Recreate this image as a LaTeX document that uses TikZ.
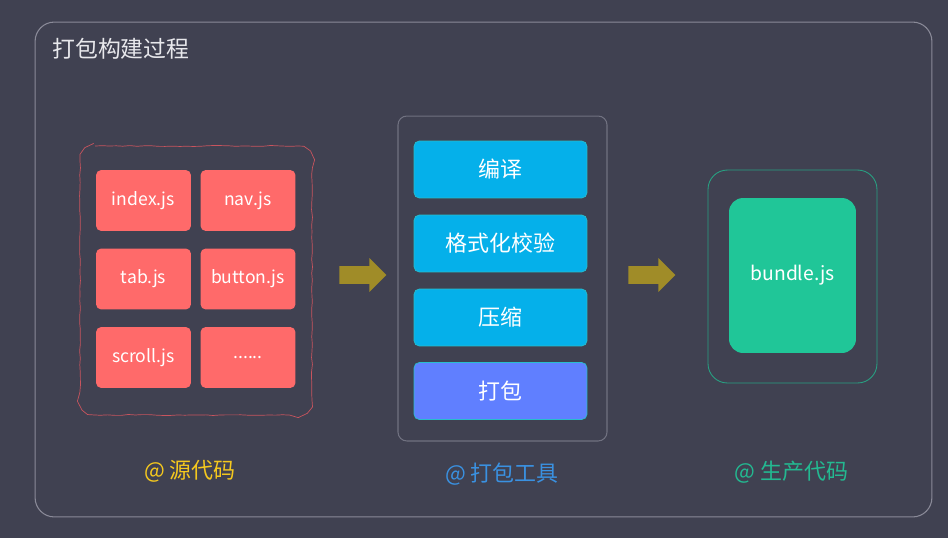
\documentclass[tikz,border=0pt]{standalone}
\usepackage{fontspec}
\setmainfont{Noto Sans CJK SC}
\usetikzlibrary{shapes.arrows,decorations.pathmorphing}
\definecolor{bgdark}{RGB}{64,65,81}
\definecolor{framegray}{RGB}{138,138,152}
\definecolor{toolgray}{RGB}{112,113,128}
\definecolor{srcred}{RGB}{255,106,106}
\definecolor{wavyred}{RGB}{200,84,94}
\definecolor{stepblue}{RGB}{5,176,234}
\definecolor{stepedge}{RGB}{40,190,205}
\definecolor{packblue}{RGB}{96,127,255}
\definecolor{arrowolive}{RGB}{160,140,40}
\definecolor{outgreen}{RGB}{40,160,130}
\definecolor{bundlegreen}{RGB}{32,198,152}
\definecolor{labyellow}{RGB}{245,200,30}
\definecolor{labblue}{RGB}{58,145,225}
\definecolor{labgreen}{RGB}{35,185,145}
\tikzset{
  srcfile/.style={fill=srcred, rounded corners=3pt, minimum width=1.9cm, minimum height=1.22cm, inner sep=0pt, text=white, font=\fontsize{10}{12}\selectfont},
  toolstep/.style={fill=stepblue, draw=stepedge, line width=0.4pt, rounded corners=3pt, minimum width=3.46cm, minimum height=1.14cm, inner sep=0pt, text=white, font=\fontsize{12.5}{14}\selectfont},
  blockarrow/.style={single arrow, fill=arrowolive, minimum height=0.94cm, inner sep=0.17cm, single arrow head extend=0.16cm, anchor=tail},
  grouplabel/.style={font=\fontsize{12.5}{14}\selectfont},
  wavy/.style={draw=wavyred, line width=0.4pt, decorate, decoration={random steps, segment length=4pt, amplitude=0.3pt}}
}
\begin{document}
\begin{tikzpicture}[x=0.02cm,y=-0.02cm]
\useasboundingbox[fill=bgdark] (0,0) rectangle (948,538);
\node[draw=framegray, line width=0.6pt, rounded corners=11pt, minimum width=17.94cm, minimum height=9.9cm] (outer) at (483.5,269.5) {};
\node[anchor=west, text={rgb,255:red,232;green,232;blue,236}, font=\fontsize{13}{15}\selectfont, inner sep=0pt] (title) at (52,49) {打包构建过程};
\node[minimum width=4.64cm, minimum height=5.38cm] (src) at (196,280.5) {};
\draw[wavy] (95,146) -- (297,146) .. controls (305,146) and (312,153) .. (312,161) -- (312,400) .. controls (312,408) and (305,415) .. (297,415) -- (95,415) .. controls (87,415) and (80,408) .. (80,400) -- (80,161) .. controls (80,153) and (87,146) .. (95,146) -- cycle;
\node[srcfile] (index) at (143.5,200.5) {index.js};
\node[srcfile] (nav) at (248,200.5) {nav.js};
\node[srcfile] (tab) at (143.5,279) {tab.js};
\node[srcfile] (button) at (248,279) {button.js};
\node[srcfile] (scroll) at (143.5,357.5) {scroll.js};
\node[srcfile] (more) at (248,357.5) {......};
\node[blockarrow] (arrA) at (339,275) {};
\node[draw=toolgray, line width=0.6pt, rounded corners=5pt, minimum width=4.18cm, minimum height=6.5cm] (tool) at (502.5,278.5) {};
\node[toolstep] (compile) at (500.5,169.5) {编译};
\node[toolstep] (lint) at (500.5,243.5) {格式化校验};
\node[toolstep] (minify) at (500.5,317.5) {压缩};
\node[toolstep, fill=packblue] (pack) at (500.5,391) {打包};
\node[blockarrow] (arrB) at (628,275) {};
\node[draw=outgreen, line width=0.5pt, rounded corners=11pt, minimum width=3.38cm, minimum height=4.26cm] (out) at (792.5,276.5) {};
\node[fill=bundlegreen, rounded corners=8pt, minimum width=2.54cm, minimum height=3.1cm, text=white, font=\fontsize{11}{13}\selectfont] (bundle) at (792.5,275.5) {bundle.js};
\node[grouplabel, text=labyellow] (srclabel) at (190,471) {@ 源代码};
\node[grouplabel, text=labblue] (toollabel) at (502,474) {@ 打包工具};
\node[grouplabel, text=labgreen] (outlabel) at (791.5,472) {@ 生产代码};
\end{tikzpicture}
\end{document}
